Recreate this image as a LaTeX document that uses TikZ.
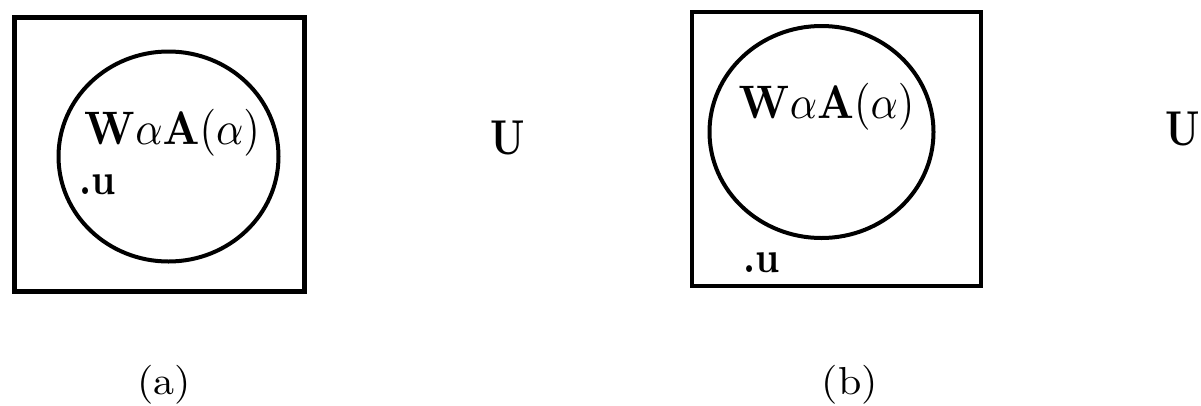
\documentclass[tikz,border=0pt]{standalone}
\tikzset{
  frame/.style={draw=black, line width=4.5pt},
  setcircle/.style={draw=black, line width=4pt},
  formula/.style={inner sep=0pt, anchor=base, xscale=4.25, yscale=4.7},
  lbl/.style={inner sep=0pt, anchor=base, xscale=3.8, yscale=4.4, font=\bfseries},
  univ/.style={inner sep=0pt, anchor=base, xscale=3.9, yscale=4.9, font=\bfseries},
  caption/.style={inner sep=0pt, anchor=base, xscale=4.2, yscale=3.9},
}
\begin{document}
\begin{tikzpicture}[x=1pt,y=-1pt]
\useasboundingbox (0,0) rectangle (1201,405);
% (a)
\draw[frame] (14.5,17.5) rectangle (304.5,291.5);
\draw[setcircle] (168.5,156.5) ellipse [x radius=110, y radius=105];
\node[formula] (fa) at (172,144) {$\mathbf{W}\alpha\mathbf{A}(\alpha)$};
\node[lbl] (ua) at (98,194) {.u};
\node[univ] (Ua) at (507.5,154) {U};
\node[caption] (ca) at (164,394) {(a)};
% (b)
\draw[frame] (692,12) rectangle (981,286);
\draw[setcircle] (821.5,132) ellipse [x radius=112, y radius=106];
\node[formula] (fb) at (826.5,118) {$\mathbf{W}\alpha\mathbf{A}(\alpha)$};
\node[lbl] (ub) at (761.5,272) {.u};
\node[univ] (Ub) at (1183,145) {U};
\node[caption] (cb) at (850,394) {(b)};
\end{tikzpicture}
\end{document}
